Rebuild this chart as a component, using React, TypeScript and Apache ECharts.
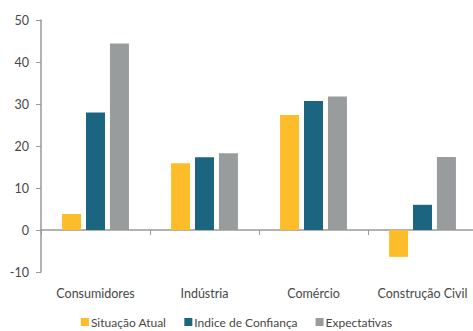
import React, { useEffect, useRef } from "react";
import * as echarts from "echarts";

const categories = ["Consumidores", "Indústria", "Comércio", "Construção Civil"];
const situacaoAtual = [3.8, 15.9, 27.4, -6.4];
const indiceConfianca = [28.0, 17.3, 30.7, 6.0];
const expectativas = [44.4, 18.3, 31.8, 17.4];
const seriesNames = ["Situação Atual", "Indice de Confiança", "Expectativas"];
const colors = ["#FDBD2B", "#1B6580", "#999C9D"];

export default function App() {
  const ref = useRef<HTMLDivElement>(null);
  useEffect(() => {
    if (!ref.current) return;
    const chart = echarts.init(ref.current, undefined, { renderer: "svg" });
    const font = "Lato, 'Open Sans', sans-serif";
    const data = [situacaoAtual, indiceConfianca, expectativas];
    chart.setOption({
      animation: false,
      textStyle: { fontFamily: font },
      legend: {
        top: 316,
        left: "center",
        padding: 0,
        itemWidth: 8,
        itemHeight: 8,
        itemGap: 18,
        icon: "rect",
        textStyle: { fontSize: 12, color: "#474747", fontFamily: font, padding: [0, 0, 0, -3] },
        data: seriesNames,
      },
      grid: { left: 41, right: -4, top: 20, bottom: 59, outerBoundsMode: "none", containLabel: false },
      xAxis: {
        type: "category",
        data: categories,
        axisLine: { onZero: true, lineStyle: { color: "#999", width: 1.5 } },
        axisTick: { show: true, length: 5, lineStyle: { color: "#999" } },
        axisLabel: { interval: 0, margin: 15, fontSize: 12.5, color: "#474747", fontFamily: font },
        splitLine: { show: false },
      },
      yAxis: {
        type: "value",
        min: -10,
        max: 50,
        interval: 10,
        axisLine: { show: true, lineStyle: { color: "#999", width: 1.5 } },
        axisTick: { show: true, length: 5, lineStyle: { color: "#999" } },
        axisLabel: { margin: 12, fontSize: 12.5, color: "#474747", fontFamily: font },
        splitLine: { show: false },
      },
      series: seriesNames.map((name, i) => ({
        name,
        type: "bar",
        data: data[i],
        barWidth: 19,
        barGap: "26%",
        itemStyle: { color: colors[i] },
      })),
    });
    return () => chart.dispose();
  }, []);
  return <div ref={ref} style={{ width: 473, height: 331, position: "absolute", left: 0, top: 0 }} />;
}
